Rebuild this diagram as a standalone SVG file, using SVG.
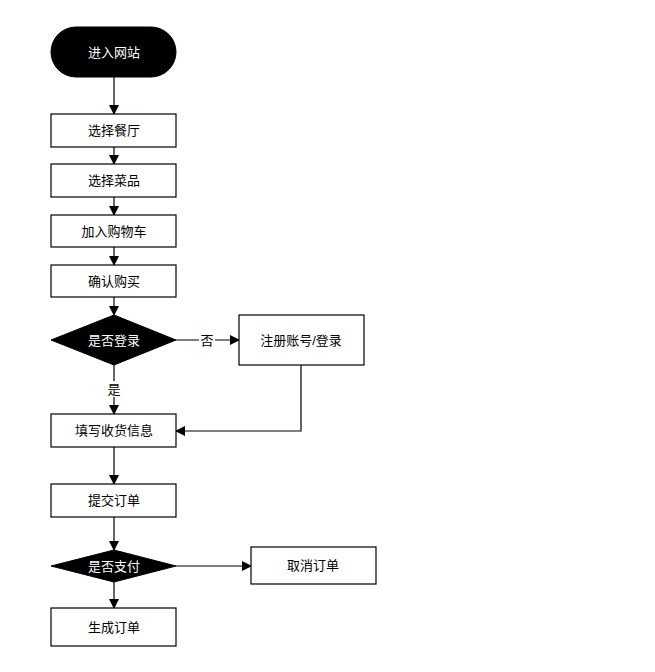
<svg xmlns="http://www.w3.org/2000/svg" width="655" height="672" viewBox="0 0 655 672">
<style>
.b{fill:#fff;stroke:#000;stroke-width:1.2}
.k{fill:#000;stroke:#000}
text{font-family:"Liberation Sans","Noto Sans CJK SC",sans-serif;font-size:13px;text-anchor:middle;dominant-baseline:central}
.w{fill:#fff}
.c{fill:none;stroke:#000;stroke-width:1.2}
.lb{fill:#fff}
</style>
<defs><marker id="a" markerWidth="10" markerHeight="10" refX="9" refY="5" orient="auto" markerUnits="userSpaceOnUse"><path d="M0,0 L10,5 L0,10 Z"/></marker></defs>
<rect width="655" height="672" fill="#fff"/>
<g id="connectors">
<path class="c" d="M114,77 V114" marker-end="url(#a)"/>
<path class="c" d="M114,147 V164" marker-end="url(#a)"/>
<path class="c" d="M114,197 V215" marker-end="url(#a)"/>
<path class="c" d="M114,247 V265" marker-end="url(#a)"/>
<path class="c" d="M114,297 V315" marker-end="url(#a)"/>
<path class="c" d="M176,340 H239" marker-end="url(#a)"/>
<rect class="lb" x="199" y="332" width="16" height="16"/>
<text x="207" y="340">否</text>
<path class="c" d="M114,365 V414" marker-end="url(#a)"/>
<rect class="lb" x="106" y="381" width="16" height="16"/>
<text x="114" y="389">是</text>
<path class="c" d="M301,365 V431 H176" marker-end="url(#a)"/>
<path class="c" d="M114,447 V484" marker-end="url(#a)"/>
<path class="c" d="M114,517 V550" marker-end="url(#a)"/>
<path class="c" d="M176,566 H251" marker-end="url(#a)"/>
<path class="c" d="M114,582 V608" marker-end="url(#a)"/>
</g>
<g id="n1"><rect class="k" x="51" y="27" width="125" height="50" rx="25"/><text class="w" x="114" y="52">进入网站</text></g>
<g id="n2"><rect class="b" x="51" y="114" width="125" height="33"/><text x="114" y="130.5">选择餐厅</text></g>
<g id="n3"><rect class="b" x="51" y="164" width="125" height="33"/><text x="114" y="180.5">选择菜品</text></g>
<g id="n4"><rect class="b" x="51" y="215" width="125" height="32"/><text x="114" y="231">加入购物车</text></g>
<g id="n5"><rect class="b" x="51" y="265" width="125" height="32"/><text x="114" y="281">确认购买</text></g>
<g id="n6"><polygon class="k" points="114,315 176,340 114,365 51,340"/><text class="w" x="114" y="340">是否登录</text></g>
<g id="n7"><rect class="b" x="239" y="315" width="125" height="50"/><text x="301" y="340">注册账号/登录</text></g>
<g id="n8"><rect class="b" x="51" y="414" width="125" height="33"/><text x="114" y="430.5">填写收货信息</text></g>
<g id="n9"><rect class="b" x="51" y="484" width="125" height="33"/><text x="114" y="500.5">提交订单</text></g>
<g id="n10"><polygon class="k" points="114,550 176,566 114,582 51,566"/><text class="w" x="114" y="566">是否支付</text></g>
<g id="n11"><rect class="b" x="251" y="547" width="125" height="37"/><text x="313" y="565.5">取消订单</text></g>
<g id="n12"><rect class="b" x="51" y="608" width="125" height="38"/><text x="114" y="627">生成订单</text></g>
</svg>
